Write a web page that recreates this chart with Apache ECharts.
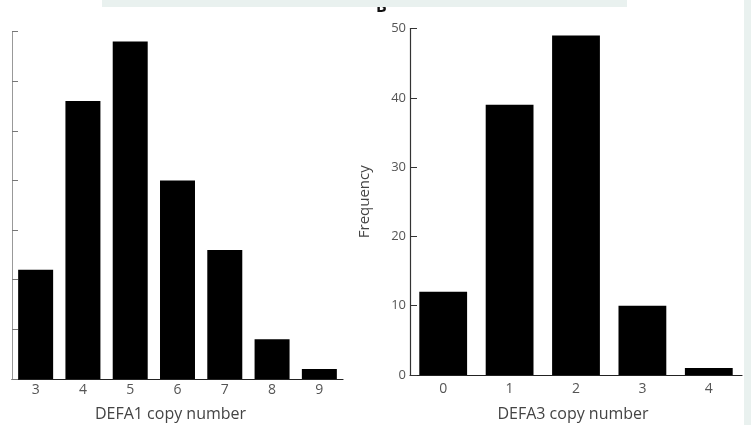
<!DOCTYPE html>
<html>
<head>
<meta charset="utf-8">
<script src="https://cdn.jsdelivr.net/npm/echarts@6/dist/echarts.min.js"></script>
<style>
  html, body { margin: 0; padding: 0; background: #fff; }
  #main { width: 751px; height: 425px; }
</style>
</head>
<body>
<div id="main"></div>
<script>
// DEFA1 panel (left)
var defa1Copies = ['3', '4', '5', '6', '7', '8', '9'];
var defa1Freq = [11, 28, 34, 20, 13, 4, 1];
// DEFA3 panel (right)
var defa3Copies = ['0', '1', '2', '3', '4'];
var defa3Freq = [12, 39, 49, 10, 1];

var font = 'Open Sans';
var chart = echarts.init(document.getElementById('main'));

chart.setOption({
  backgroundColor: '#fff',
  animation: false,
  textStyle: { fontFamily: font },
  grid: [
    { left: 12, top: 31.5, width: 331, height: 347.5, outerBoundsMode: 'none' },
    { left: 410, top: 28.5, width: 332, height: 346.5, outerBoundsMode: 'none' }
  ],
  xAxis: [
    {
      gridIndex: 0, type: 'category', data: defa1Copies,
      name: 'DEFA1 copy number', nameLocation: 'middle', nameGap: 27,
      nameTextStyle: { color: '#444', fontSize: 16, fontFamily: font, padding: [0, 14, 0, 0] },
      axisLine: { lineStyle: { color: '#222', width: 1.2 } },
      axisTick: { inside: true, length: 5, lineStyle: { color: '#333' } },
      axisLabel: { color: '#555', fontSize: 14, margin: 4 }
    },
    {
      gridIndex: 1, type: 'category', data: defa3Copies,
      name: 'DEFA3 copy number', nameLocation: 'middle', nameGap: 31,
      nameTextStyle: { color: '#444', fontSize: 16, fontFamily: font, padding: [0, 6, 0, 0] },
      axisLine: { lineStyle: { color: '#222', width: 1.2 } },
      axisTick: { inside: true, length: 5, lineStyle: { color: '#333' } },
      axisLabel: { color: '#555', fontSize: 14, margin: 7 }
    }
  ],
  yAxis: [
    {
      gridIndex: 0, type: 'value', min: 0, max: 35, interval: 5,
      axisLine: { show: true, lineStyle: { color: '#999', width: 1 } },
      axisTick: { show: true, inside: true, length: 6, lineStyle: { color: '#777' } },
      axisLabel: { show: false },
      splitLine: { show: false }
    },
    {
      gridIndex: 1, type: 'value', min: 0, max: 50, interval: 10,
      name: 'Frequency', nameLocation: 'middle', nameGap: 38, nameRotate: 90,
      nameTextStyle: { color: '#444', fontSize: 15, fontFamily: font },
      axisLine: { show: true, lineStyle: { color: '#333', width: 1.2 } },
      axisTick: { show: true, inside: true, length: 7, lineStyle: { color: '#333' } },
      axisLabel: { color: '#555', fontSize: 13, margin: 4 },
      splitLine: { show: false }
    }
  ],
  series: [
    {
      type: 'bar', xAxisIndex: 0, yAxisIndex: 0, data: defa1Freq,
      barWidth: '74%',
      itemStyle: { color: '#000' }
    },
    {
      type: 'bar', xAxisIndex: 1, yAxisIndex: 1, data: defa3Freq,
      barWidth: '72%',
      itemStyle: { color: '#000' }
    }
  ],
  graphic: [
    // panel letter, partly hidden under the caption box
    { type: 'text', left: 376, top: -1, z: 10,
      style: { text: 'B', fontSize: 16, fontWeight: 'bold', fill: '#111', fontFamily: font } },
    { type: 'rect', shape: { x: 102, y: 0, width: 525, height: 7 }, z: 20,
      style: { fill: '#e9f1ef' } },
    { type: 'rect', shape: { x: 744, y: 0, width: 7, height: 425 }, z: 20,
      style: { fill: '#e9f1ef' } }
  ]
});
</script>
</body>
</html>
